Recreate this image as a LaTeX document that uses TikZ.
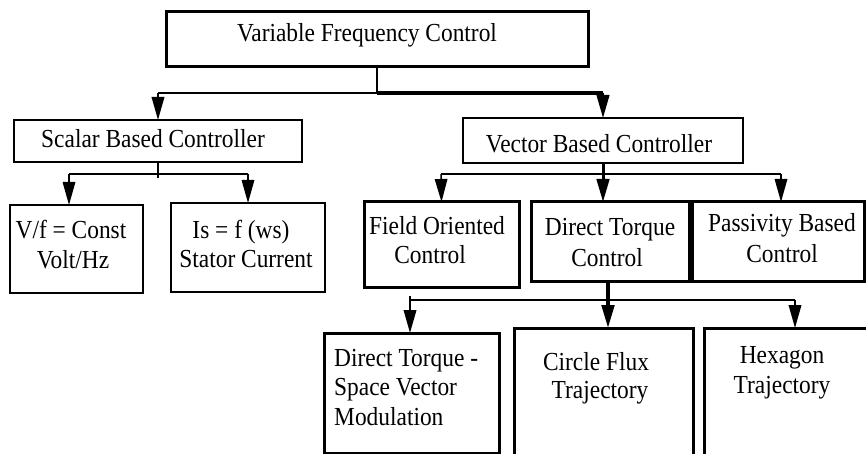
\documentclass[tikz,border=0pt]{standalone}
\usepackage{fontspec}
\setmainfont{Liberation Serif}[FakeStretch=0.9]
\usetikzlibrary{arrows.meta}
\begin{document}
\begin{tikzpicture}[x=1pt,y=-1pt,
  box/.style={draw, inner sep=0pt, outer sep=0pt, anchor=north west},
  lbl/.style={font=\fontsize{26}{29}\selectfont, inner sep=0pt, anchor=base},
  lbll/.style={lbl, anchor=base west},
  arr/.style={-{Triangle[length=23pt 0,width=12.5pt 0]}}]
\useasboundingbox (0,0) rectangle (866,454);
\clip (0,0) rectangle (866,454);

% boxes
\node[box, line width=3pt, minimum width=422pt, minimum height=55pt] (top) at (166,12) {};
\node[box, line width=1.5pt, minimum width=288pt, minimum height=42pt] (scalar) at (14,120) {};
\node[box, line width=1.5pt, minimum width=280pt, minimum height=45pt] (vector) at (463,118) {};
\node[box, line width=2pt, minimum width=133pt, minimum height=88pt] (vf) at (10,205) {};
\node[box, line width=2pt, minimum width=154pt, minimum height=89pt] (is) at (171,203) {};
\node[box, line width=3pt, minimum width=155pt, minimum height=85pt] (foc) at (364,202) {};
\node[box, line width=3pt, minimum width=158pt, minimum height=79pt] (dtc) at (531,202) {};
\node[box, line width=3pt, minimum width=172pt, minimum height=79pt] (pbc) at (692,202) {};
\node[box, line width=3pt, minimum width=175pt, minimum height=120pt] (svm) at (324,333) {};
\node[box, line width=3pt, minimum width=179pt, minimum height=142pt] (cft) at (514,328) {};
\node[box, line width=3pt, minimum width=176pt, minimum height=142pt] (hex) at (704,328) {};

% labels
\node[lbl] (ttop) at (367,42) {Variable Frequency Control};
\node[lbl] (tscalar) at (153,148) {Scalar Based Controller};
\node[lbl] (tvector) at (599,153) {Vector Based Controller};
\node[lbl] (tvf1) at (71,238) {V/f = Const};
\node[lbl] (tvf2) at (73,268) {Volt/Hz};
\node[lbl] (tis1) at (241,238) {Is = f (ws)};
\node[lbl] (tis2) at (246,267) {Stator Current};
\node[lbl] (tfoc1) at (437,234) {Field Oriented};
\node[lbl] (tfoc2) at (430,263) {Control};
\node[lbl] (tdtc1) at (610,236) {Direct Torque};
\node[lbl] (tdtc2) at (607,266) {Control};
\node[lbl] (tpbc1) at (782,231) {Passivity Based};
\node[lbl] (tpbc2) at (782,262) {Control};
\node[lbll] (tsvm1) at (334,366) {Direct Torque -};
\node[lbll] (tsvm2) at (334,395) {Space Vector};
\node[lbll] (tsvm3) at (334,425) {Modulation};
\node[lbl] (tcft1) at (596,370) {Circle Flux};
\node[lbl] (tcft2) at (600,398) {Trajectory};
\node[lbl] (thex1) at (782,363) {Hexagon};
\node[lbl] (thex2) at (782,393) {Trajectory};

% junction points
\coordinate (busA) at (158,93);
\coordinate (busBl) at (69,174);
\coordinate (busBr) at (248,174);
\coordinate (busCl) at (441,174);
\coordinate (busCr) at (781,174);
\coordinate (busDl) at (410,300);
\coordinate (busDr) at (795,300);

% first level
\draw[line width=2.5pt] (top.south) -- (top.south |- busA);
\draw[line width=2pt] (busA) -- (top.south |- busA);
\draw[line width=3.2pt] (top.south |- busA) -- (vector.north |- busA);
\draw[arr, line width=2pt] (busA) -- (scalar.north);
\draw[arr, line width=2.5pt] (vector.north |- busA) -- (vector.north);

% scalar branch
\draw[line width=1.5pt] (scalar.south) -- ++(0,16);
\draw[line width=1.5pt] (busBl) -- (busBr);
\draw[arr, line width=1.5pt] (busBl) -- (busBl |- vf.north);
\draw[arr, line width=1.5pt] (busBr) -- (is.north);

% vector branch
\draw[line width=1.5pt] (busCl) -- (busCr);
\draw[arr, line width=3pt] (vector.south) -- (vector.south |- dtc.north);
\draw[arr, line width=1.5pt] (busCl) -- (foc.north);
\draw[arr, line width=1.5pt] (busCr) -- (busCr |- pbc.north);

% direct torque branch
\draw[line width=2pt] (busDl) -- (busDr);
\draw[line width=2pt] (busDl) -- ++(0,-4);
\draw[arr, line width=3.5pt] ([xshift=-2pt]dtc.south) -- ([xshift=-2pt]dtc.south |- cft.north);
\draw[arr, line width=2pt] (busDl) -- (busDl |- svm.north);
\draw[arr, line width=2pt] (busDr) -- (busDr |- hex.north);
\end{tikzpicture}
\end{document}
